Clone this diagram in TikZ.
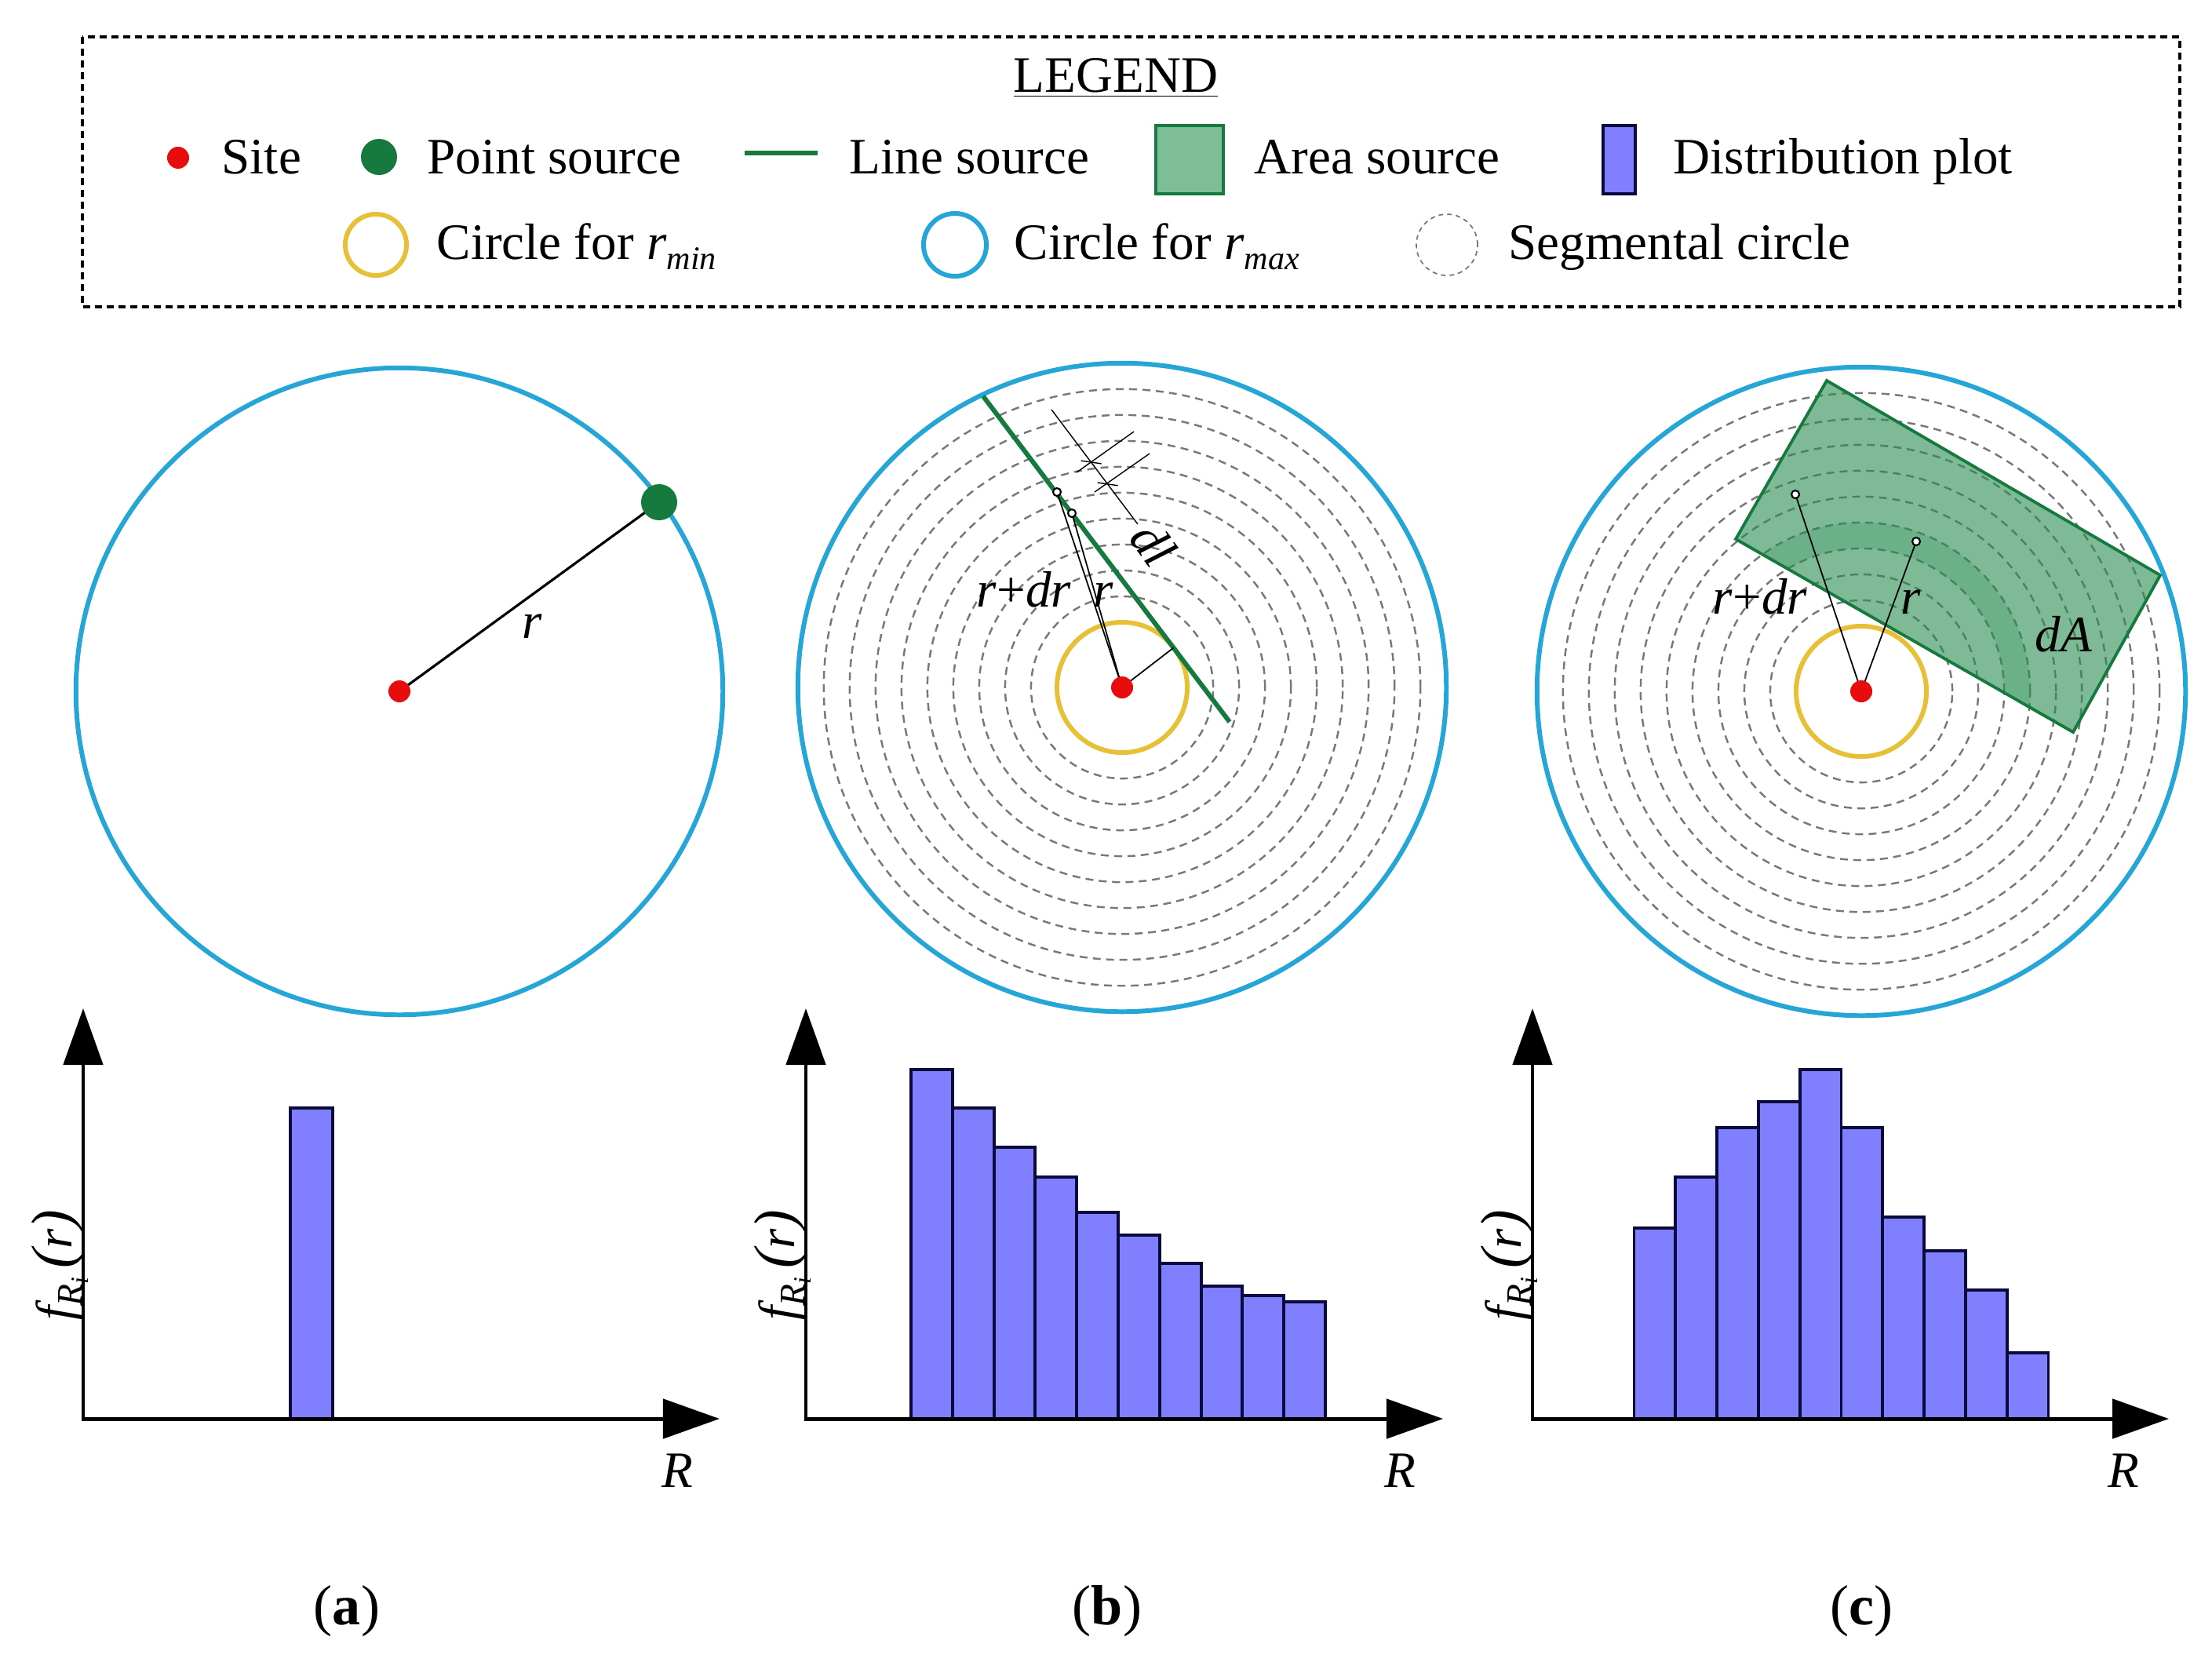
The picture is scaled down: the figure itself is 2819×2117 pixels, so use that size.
\documentclass[tikz,border=0pt]{standalone}
\usepackage{fontspec}
\setmainfont{Liberation Serif}
\usetikzlibrary{arrows.meta}
\definecolor{sitered}{RGB}{232,12,12}
\definecolor{rmaxblue}{RGB}{38,166,214}
\definecolor{rminyellow}{RGB}{230,192,55}
\definecolor{srcgreen}{RGB}{22,122,62}
\definecolor{areabase}{RGB}{40,140,80}
\definecolor{areafill}{RGB}{126,190,150}
\definecolor{barfill}{RGB}{128,128,255}
\definecolor{barline}{RGB}{10,10,60}
\definecolor{seggray}{RGB}{120,120,120}
\newcommand{\lgsub}[1]{\raisebox{-0.45ex}{\fontsize{12}{13}\selectfont\itshape #1}}
\newcommand{\fRi}{\textit{f}\raisebox{-0.45ex}{\fontsize{13}{14}\selectfont\textit{R}\raisebox{-0.35ex}{\fontsize{9}{10}\selectfont\textit{i}}}\,{\fontsize{21}{24}\selectfont(}\textit{r}{\fontsize{21}{24}\selectfont)}}
\begin{document}
\begin{tikzpicture}[x=0.01cm,y=-0.01cm,
  legendbox/.style={draw, line width=1.1pt, dash pattern=on 0.09cm off 0.06cm},
  sitedot/.style={circle, fill=sitered, inner sep=0pt, minimum size=0.28cm},
  ptsrc/.style={circle, fill=srcgreen, inner sep=0pt, minimum size=0.46cm},
  rmaxc/.style={draw=rmaxblue, line width=1.7pt},
  rminc/.style={draw=rminyellow, line width=1.7pt},
  segc/.style={draw=seggray, line width=0.7pt, dash pattern=on 0.1cm off 0.07cm},
  linesrc/.style={draw=srcgreen, line width=1.7pt},
  histbar/.style={fill=barfill, draw=barline, line width=1.1pt},
  axisline/.style={line width=1.4pt, {Triangle[length=0.72cm,width=0.5cm]}-{Triangle[length=0.72cm,width=0.5cm]}},
  txt/.style={font=\fontsize{18.5}{22}\selectfont, inner sep=0pt},
  mathlbl/.style={font=\fontsize{18.5}{22}\selectfont\itshape, inner sep=0pt},
  captxt/.style={font=\fontsize{20.5}{24}\selectfont, inner sep=0pt},
  hollow/.style={circle, draw, fill=white, line width=0.6pt, inner sep=0pt, minimum size=0.1cm},
  thinline/.style={line width=0.5pt},
  dimline/.style={line width=0.4pt}
]
\useasboundingbox (0,0) rectangle (2819,2117);

% ---------------- legend ----------------
\draw[legendbox] (105,47) rectangle (2778,391);
\node[txt, anchor=base] (legtitle) at (1422,117) {\underline{LEGEND}};
\node[sitedot] (lgsite) at (227,201) {};
\node[txt, anchor=base west] (lgsitet) at (282,221) {Site};
\node[ptsrc] (lgpt) at (483,200) {};
\node[txt, anchor=base west] (lgptt) at (544,221) {Point source};
\coordinate (lgl1) at (949,195);
\coordinate (lgl2) at (1042,195);
\draw[linesrc] (lgl1) -- (lgl2);
\node[txt, anchor=base west] (lglinet) at (1082,221) {Line source};
\node[fill=areafill, draw=srcgreen, line width=1.1pt, minimum width=0.86cm, minimum height=0.87cm, inner sep=0pt] (lgarea) at (1516,203.5) {};
\node[txt, anchor=base west] (lgareat) at (1598,221) {Area source};
\node[histbar, minimum width=0.41cm, minimum height=0.87cm, inner sep=0pt] (lgbar) at (2063.5,203.5) {};
\node[txt, anchor=base west] (lgbart) at (2132,221) {Distribution plot};
\node[circle, rminc, minimum size=0.78cm, inner sep=0pt] (lgmin) at (479,312) {};
\node[txt, anchor=base west] (lgmint) at (556,330) {Circle for \textit{r}\lgsub{min}};
\node[circle, rmaxc, minimum size=0.8cm, inner sep=0pt] (lgmax) at (1217,312) {};
\node[txt, anchor=base west] (lgmaxt) at (1292,330) {Circle for \textit{r}\lgsub{max}};
\node[circle, draw=seggray, line width=0.5pt, dash pattern=on 0.06cm off 0.05cm, minimum size=0.78cm, inner sep=0pt] (lgseg) at (1844,312) {};
\node[txt, anchor=base west] (lgsegt) at (1922,330) {Segmental circle};

% ---------------- panel (a) ----------------
\coordinate (cA) at (509,881);
\coordinate (pA) at (840,640);
\draw[rmaxc] (cA) circle[radius=4.12cm];
\draw[line width=0.9pt] (cA) -- (pA);
\node[sitedot] (siteA) at (cA) {};
\node[ptsrc] (ptA) at (pA) {};
\node[mathlbl] (rA) at (678,798) {r};

% ---------------- panel (b) ----------------
\coordinate (cB) at (1430,876);
\foreach \k in {1,...,9}{
  \pgfmathsetmacro\rr{0.83+0.33*\k}
  \draw[segc] (cB) circle[radius=\rr cm];
}
\draw[rminc] (cB) circle[radius=0.83cm];
\draw[rmaxc] (cB) circle[radius=4.13cm];
\coordinate (gB1) at (1253,505);
\coordinate (gB2) at (1567,920);
\draw[linesrc] (gB1) -- (gB2);
\coordinate (fB) at (1495.5,825.5);
\coordinate (qB1) at (1347,627);
\coordinate (qB2) at (1366,654);
\draw[thinline] (cB) -- (fB);
\draw[thinline] (cB) -- (qB1);
\draw[thinline] (cB) -- (qB2);
% dimension dl
\coordinate (dB1) at (1340,522);
\coordinate (dB2) at (1450,668);
\coordinate (e1a) at (1372,602);
\coordinate (e1b) at (1445,550);
\coordinate (e2a) at (1395,627);
\coordinate (e2b) at (1465,578);
\coordinate (t1a) at (1377.6,587.1);
\coordinate (t1b) at (1403.6,590.9);
\coordinate (t2a) at (1398.7,615.0);
\coordinate (t2b) at (1424.7,618.8);
\draw[dimline] (dB1) -- (dB2);
\draw[dimline] (e1a) -- (e1b);
\draw[dimline] (e2a) -- (e2b);
\draw[dimline] (t1a) -- (t1b);
\draw[dimline] (t2a) -- (t2b);
\node[mathlbl, rotate=-53] (dlB) at (1470,693) {dl};
\node[hollow] (ptB1) at (qB1) {};
\node[hollow] (ptB2) at (qB2) {};
\node[sitedot] (siteB) at (cB) {};
\node[txt, anchor=base] (rdrB) at (1305,773) {\textit{r}+\textit{dr}};
\node[mathlbl, anchor=base] (rB) at (1406,773) {r};

% ---------------- panel (c) ----------------
\coordinate (cC) at (2372,881);
\foreach \k in {1,...,9}{
  \pgfmathsetmacro\rr{0.83+0.33*\k}
  \draw[segc] (cC) circle[radius=\rr cm];
}
\draw[rminc] (cC) circle[radius=0.83cm];
\coordinate (aC1) at (2328,485);
\coordinate (aC2) at (2753,733);
\coordinate (aC3) at (2642,933);
\coordinate (aC4) at (2212,687);
\fill[areabase, fill opacity=0.6] (aC1) -- (aC2) -- (aC3) -- (aC4) -- cycle;
\begin{scope}
  \clip (aC1) -- (aC2) -- (aC3) -- (aC4) -- cycle;
  \fill[areabase, fill opacity=0.22, even odd rule] (cC) circle[radius=2.15cm] (cC) circle[radius=1.82cm];
\end{scope}
\draw[draw=srcgreen, line width=1.1pt] (aC1) -- (aC2) -- (aC3) -- (aC4) -- cycle;
\draw[rmaxc] (cC) circle[radius=4.13cm];
\coordinate (qC1) at (2288,630);
\coordinate (qC2) at (2442,690);
\draw[thinline] (cC) -- (qC1);
\draw[thinline] (cC) -- (qC2);
\node[hollow] (ptC1) at (qC1) {};
\node[hollow] (ptC2) at (qC2) {};
\node[sitedot] (siteC) at (cC) {};
\node[txt, anchor=base] (rdrC) at (2243,782) {\textit{r}+\textit{dr}};
\node[mathlbl, anchor=base] (rC) at (2435,782) {r};
\node[mathlbl, anchor=base] (dAC) at (2630,830) {dA};

% ---------------- histograms ----------------
% (a)
\draw[histbar] (370,1808) rectangle (424,1412);
\coordinate (oA) at (106,1808);
\coordinate (yTA) at (106,1285);
\coordinate (xTA) at (917,1808);
\draw[axisline] (yTA) -- (oA) -- (xTA);
\node[mathlbl, rotate=90] (ylA) at (76,1612) {\fRi};
\node[mathlbl] (RA) at (863,1874) {R};
% (b)
\foreach \i/\h in {0/1363,1/1412,2/1462,3/1500,4/1545,5/1574,6/1610,7/1639,8/1651,9/1659}{
  \draw[histbar] ({1161+52.8*\i},1808) rectangle ({1161+52.8*(\i+1)},\h);
}
\coordinate (oB) at (1027,1808);
\coordinate (yTB) at (1027,1285);
\coordinate (xTB) at (1839,1808);
\draw[axisline] (yTB) -- (oB) -- (xTB);
\node[mathlbl, rotate=90] (ylB) at (997,1612) {\fRi};
\node[mathlbl] (RB) at (1784,1874) {R};
% (c)
\foreach \i/\h in {0/1565,1/1500,2/1437,3/1404,4/1363,5/1437,6/1551,7/1594,8/1644,9/1724}{
  \draw[histbar] ({2082.5+52.8*\i},1808) rectangle ({2082.5+52.8*(\i+1)},\h);
}
\coordinate (oC) at (1953,1808);
\coordinate (yTC) at (1953,1285);
\coordinate (xTC) at (2764,1808);
\draw[axisline] (yTC) -- (oC) -- (xTC);
\node[mathlbl, rotate=90] (ylC) at (1923,1612) {\fRi};
\node[mathlbl] (RC) at (2706,1874) {R};

% ---------------- captions ----------------
\node[captxt] (capA) at (442,2053) {(\textbf{a})};
\node[captxt] (capB) at (1411,2053) {(\textbf{b})};
\node[captxt] (capC) at (2372,2053) {(\textbf{c})};
\end{tikzpicture}
\end{document}
